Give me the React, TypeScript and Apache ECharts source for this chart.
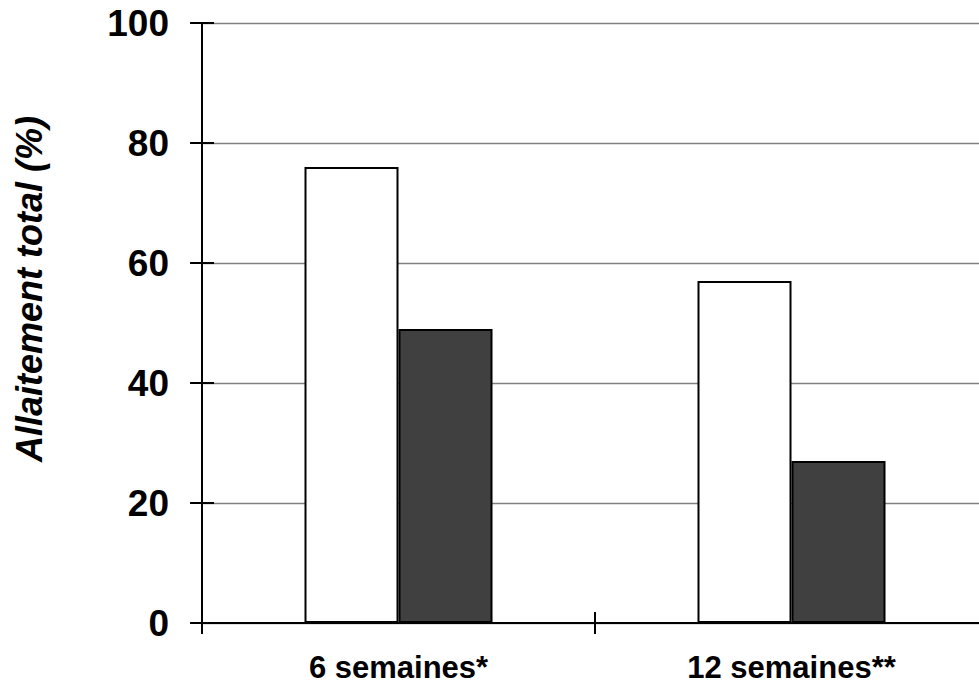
import React, { useEffect, useRef } from "react";
import * as echarts from "echarts";

const categories = ["6 semaines*", "12 semaines**"];
const seriesWhite = [76, 57];
const seriesDark = [49, 27];
const yTicks = { min: 0, max: 100, interval: 20 };
const yTitle = "Allaitement total (%)";

export default function App() {
  const ref = useRef<HTMLDivElement>(null);
  useEffect(() => {
    document.body.style.margin = "0";
    const chart = echarts.init(ref.current!, undefined, { renderer: "svg" });
    const font = "'Liberation Sans', Arial, sans-serif";
    chart.setOption({
      animation: false,
      backgroundColor: "#ffffff",
      grid: { left: 202, right: 0, top: 23, bottom: 65, containLabel: false },
      xAxis: [
        {
          type: "category",
          data: categories,
          boundaryGap: true,
          axisLine: { show: true, lineStyle: { color: "#000", width: 2 } },
          axisTick: { show: true, length: 11, inside: false, lineStyle: { color: "#000", width: 2 } },
          axisLabel: {
            margin: 29,
            color: "#000",
            fontFamily: font,
            fontWeight: "bold",
            fontSize: 31,
          },
          splitLine: { show: false },
        },
        {
          type: "category",
          data: categories,
          position: "bottom",
          boundaryGap: true,
          axisLine: { show: false, onZero: false },
          axisTick: { show: true, length: 11, inside: true, lineStyle: { color: "#000", width: 2 } },
          axisLabel: { show: false },
          splitLine: { show: false },
        },
      ],
      yAxis: [
        {
          type: "value",
          min: yTicks.min,
          max: yTicks.max,
          interval: yTicks.interval,
          axisLine: { show: true, lineStyle: { color: "#000", width: 2 } },
          axisTick: { show: true, length: 12, inside: false, lineStyle: { color: "#000", width: 2 } },
          axisLabel: {
            margin: 33,
            color: "#000",
            fontFamily: font,
            fontWeight: "bold",
            fontSize: 37,
          },
          splitLine: { show: true, lineStyle: { color: "#808080", width: 1.3 } },
        },
        {
          type: "value",
          min: yTicks.min,
          max: yTicks.max,
          interval: yTicks.interval,
          position: "left",
          axisLine: { show: false },
          axisTick: { show: true, length: 12, inside: true, lineStyle: { color: "#000", width: 2 } },
          axisLabel: { show: false },
          splitLine: { show: false },
        },
      ],
      series: [
        {
          name: "Groupe 1",
          type: "bar",
          data: seriesWhite,
          barWidth: 94,
          barGap: "0%",
          itemStyle: { color: "#ffffff", borderColor: "#000", borderWidth: 2 },
        },
        {
          name: "Groupe 2",
          type: "bar",
          data: seriesDark,
          barWidth: 94,
          barGap: "0%",
          itemStyle: { color: "#404040", borderColor: "#000", borderWidth: 2 },
        },
      ],
      graphic: [
        {
          type: "text",
          x: 29,
          y: 289,
          rotation: Math.PI / 2,
          style: {
            text: yTitle,
            fill: "#000",
            font: `italic bold 36px ${font}`,
            align: "center",
            verticalAlign: "middle",
          },
        },
      ],
    });
    return () => chart.dispose();
  }, []);
  return (
    <div style={{ position: "fixed", left: 0, top: 0, width: 979, height: 688, overflow: "hidden", background: "#fff" }}>
      <div ref={ref} style={{ width: 988, height: 688 }} />
    </div>
  );
}
